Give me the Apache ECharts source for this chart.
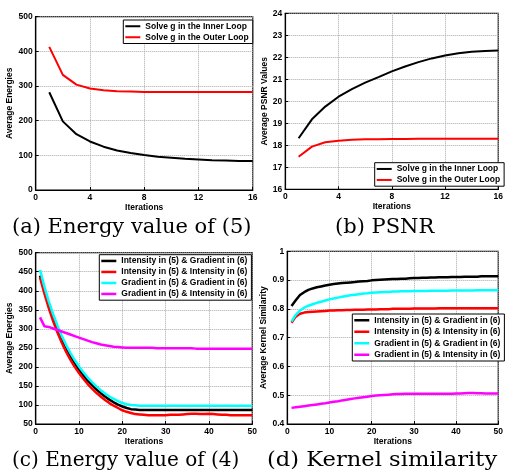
<!DOCTYPE html>
<html><head><meta charset="utf-8">
<script src="https://cdn.jsdelivr.net/npm/echarts@6/dist/echarts.min.js"></script>
<style>html,body{margin:0;padding:0;background:#fff}#c{width:506px;height:476px}</style>
</head><body><div id="c"></div>
<script>
// ---- data ----
var iterA = [1,2,3,4,5,6,7,8,9,10,11,12,13,14,15,16];
var energyInner = [282,198,161,140,125,114,107,101,96,93,90,88,86,85,84,84];
var energyOuter = [413,332,304,293,288,285,284,283,283,283,283,283,283,283,283,283];
var psnrInner = [18.32,19.18,19.76,20.21,20.55,20.85,21.1,21.36,21.58,21.78,21.95,22.08,22.18,22.25,22.29,22.31];
var psnrOuter = [17.48,17.94,18.14,18.21,18.25,18.27,18.28,18.29,18.29,18.3,18.3,18.3,18.3,18.3,18.3,18.3];

var iterC = [1,2,3,4,5,6,7,8,9,10,11,12,13,14,15,16,17,18,19,20,21,22,23,24,25,26,27,28,29,30,31,32,33,34,35,36,37,38,39,40,41,42,43,44,45,46,47,48,49,50];
var energyIG = [440,400,363,330,300,273,250,229,210,193,178,164,152,141,131,122,114,107,101,96,92,89,88,87,87,
  87,87,87,87,87,87,87,87,87,87,87,87,87,87,87,87,87,87,87,87,87,87,87,87,87];
var energyII = [435,393,355,321,291,264,240,219,200,184,169,155,143,132,122,113,105,98,92,86,82,79,76,75,74,
  73,73,73,73,73,74,74,74,75,76,77,77,76,76,77,76,75,74,74,73,73,73,73,73,73];
var energyGG = [455,411,373,339,309,282,258,237,218,201,186,172,160,149,139,130,122,116,110,105,102,100,99,98,98,
  98,98,98,98,98,98,98,98,98,98,98,98,98,98,98,98,98,98,98,98,98,98,98,98,98];
var energyGI = [330,307,305,301,297,293,289,285,281,277,273,269,265,262,259,257,255,253,252,251,250,250,250,250,250,
  250,250,249,249,249,249,249,249,249,249,249,248,248,248,248,248,248,248,248,248,248,248,248,248,248];

var simIG = [0.81,0.83,0.848,0.858,0.866,0.871,0.875,0.878,0.881,0.884,0.886,0.888,0.89,0.891,0.892,0.893,0.895,0.896,0.897,0.899,
  0.9,0.901,0.902,0.903,0.904,0.904,0.905,0.905,0.906,0.907,0.907,0.908,0.908,0.909,0.909,0.91,0.91,0.91,0.911,0.911,
  0.911,0.912,0.912,0.912,0.912,0.913,0.913,0.913,0.913,0.913];
var simII = [0.752,0.773,0.783,0.787,0.789,0.79,0.791,0.792,0.793,0.794,0.794,0.795,0.795,0.796,0.796,0.797,0.797,0.797,0.798,0.798,
  0.798,0.799,0.799,0.799,0.8,0.8,0.8,0.8,0.8,0.801,0.801,0.801,0.801,0.801,0.801,0.802,0.802,0.802,0.802,0.802,
  0.802,0.802,0.802,0.802,0.802,0.802,0.802,0.802,0.802,0.802];
var simGG = [0.756,0.779,0.794,0.804,0.811,0.816,0.821,0.825,0.829,0.833,0.836,0.839,0.842,0.845,0.847,0.849,0.851,0.853,0.854,0.856,
  0.857,0.858,0.859,0.859,0.86,0.86,0.861,0.861,0.861,0.862,0.862,0.862,0.862,0.863,0.863,0.863,0.863,0.863,0.864,0.864,
  0.864,0.864,0.864,0.864,0.865,0.865,0.865,0.865,0.865,0.865];
var simGI = [0.456,0.458,0.46,0.462,0.464,0.466,0.468,0.47,0.472,0.475,0.477,0.479,0.482,0.484,0.487,0.489,0.491,0.493,0.495,0.497,
  0.499,0.5,0.501,0.502,0.503,0.504,0.504,0.505,0.505,0.505,0.505,0.505,0.505,0.505,0.505,0.505,0.505,0.505,0.505,0.506,
  0.506,0.507,0.508,0.508,0.507,0.507,0.506,0.506,0.506,0.506];

var namesAB = ['Solve g in the Inner Loop','Solve g in the Outer Loop'];
var namesCD = ['Intensity in (5) & Gradient in (6)','Intensity in (5) & Intensity in (6)','Gradient in (5) & Gradient in (6)','Gradient in (5) & Intensity in (6)'];
var captions = ['(a) Energy value of (5)','(b) PSNR','(c) Energy value of (4)','(d) Kernel similarity'];
var colorsCD = ['#000000','#ff0000','#00ffff','#ff00ff'];

// ---- chart ----
var FONT = 'Liberation Sans, Arial, sans-serif';
var FS = 8.5;
function pairs(xs, ys){ return xs.map(function(x,i){ return [x, ys[i]]; }); }
function xAx(g, max, interval){
  return {gridIndex:g, type:'value', min:0, max:max, interval:interval,
    name:'Iterations', nameLocation:'middle', nameGap:10,
    nameTextStyle:{fontFamily:FONT, fontWeight:'bold', fontSize:FS, color:'#000'},
    axisLine:{onZero:false, lineStyle:{color:'#000', width:1.2}},
    axisTick:{inside:true, length:3, lineStyle:{color:'#000'}},
    axisLabel:{fontFamily:FONT, fontWeight:'bold', fontSize:FS, color:'#000', margin:3},
    splitLine:{show:true, lineStyle:{type:'dotted', color:'#aaa', width:1}}};
}
function yAx(g, min, max, interval, name, gap){
  return {gridIndex:g, type:'value', min:min, max:max, interval:interval,
    name:name, nameLocation:'middle', nameGap:gap, nameRotate:90,
    nameTextStyle:{fontFamily:FONT, fontWeight:'bold', fontSize:FS, color:'#000'},
    axisLine:{onZero:false, lineStyle:{color:'#000', width:1.2}},
    axisTick:{inside:true, length:3, lineStyle:{color:'#000'}},
    axisLabel:{fontFamily:FONT, fontWeight:'bold', fontSize:FS, color:'#000', margin:3},
    splitLine:{show:true, lineStyle:{type:'dotted', color:'#aaa', width:1}}};
}
function ser(name, g, xs, ys, color, w){
  return {name:name, type:'line', xAxisIndex:g, yAxisIndex:g, data:pairs(xs,ys),
    symbol:'none', lineStyle:{color:color, width:w}, itemStyle:{color:color}, animation:false};
}
function leg(data, left, top, gap, ih){
  return {data:data, left:left, top:top, orient:'vertical', icon:'rect', itemWidth:15, itemHeight:ih, itemGap:gap,
    padding:[1.5,4,1.5,2], backgroundColor:'#fff', borderColor:'#000', borderWidth:1, borderRadius:0,
    textStyle:{fontFamily:FONT, fontWeight:'bold', fontSize:FS, color:'#000', lineHeight:9.5}, selectedMode:false};
}
var gridStyle = {show:true, borderColor:'#000', borderWidth:1.2, backgroundColor:'#fff'};
var CAPTOP = '21px "DejaVu Serif", serif';
var CAPBOT = '20px "DejaVu Serif", serif';
var option = {
  backgroundColor:'#fff',
  animation:false,
  grid:[
    Object.assign({left:35.7, top:16.7, width:217, height:173.3}, gridStyle),
    Object.assign({left:285.3, top:13.3, width:222, height:176}, gridStyle),
    Object.assign({left:35.7, top:252.7, width:216.6, height:171.3}, gridStyle),
    Object.assign({left:287.3, top:251.3, width:218, height:172.7}, gridStyle)
  ],
  xAxis:[xAx(0,16,4), xAx(1,16,4), xAx(2,50,10), xAx(3,50,10)],
  yAxis:[yAx(0,0,500,100,'Average Energies',12), yAx(1,16,24,1,'Average PSNR Values',10),
         yAx(2,50,500,50,'Average Energies',12), yAx(3,0.4,1,0.1,'Average Kernel Similarity',10)],
  legend:[leg(namesAB,123.3,20,1.5,2), leg(namesAB,374.7,162.7,1.5,2),
          leg(namesCD,99.3,254.7,1.5,2.5), leg(namesCD,352.3,314,2,2.5)],
  series:[
    ser(namesAB[0],0,iterA,energyInner,'#000',2),
    ser(namesAB[1],0,iterA,energyOuter,'#ff0000',2),
    ser(namesAB[0],1,iterA,psnrInner,'#000',2),
    ser(namesAB[1],1,iterA,psnrOuter,'#ff0000',2),
    ser(namesCD[0],2,iterC,energyIG,colorsCD[0],2.5),
    ser(namesCD[1],2,iterC,energyII,colorsCD[1],2.5),
    ser(namesCD[2],2,iterC,energyGG,colorsCD[2],2.5),
    ser(namesCD[3],2,iterC,energyGI,colorsCD[3],2.5),
    ser(namesCD[0],3,iterC,simIG,colorsCD[0],2.5),
    ser(namesCD[1],3,iterC,simII,colorsCD[1],2.5),
    ser(namesCD[2],3,iterC,simGG,colorsCD[2],2.5),
    ser(namesCD[3],3,iterC,simGI,colorsCD[3],2.5)
  ],
  graphic:[
    {type:'text', left:12, top:217, style:{text:captions[0], font:CAPTOP, fill:'#000'}},
    {type:'text', left:335, top:217, style:{text:captions[1], font:CAPTOP, fill:'#000'}},
    {type:'text', left:12, top:451, style:{text:captions[2], font:CAPBOT, fill:'#000'}},
    {type:'text', x:267, y:451, scaleX:1.13, style:{text:captions[3], font:CAPBOT, fill:'#000'}}
  ]
};
var chart = echarts.init(document.getElementById('c'), null, {renderer:'canvas'});
chart.setOption(option);
</script></body></html>
